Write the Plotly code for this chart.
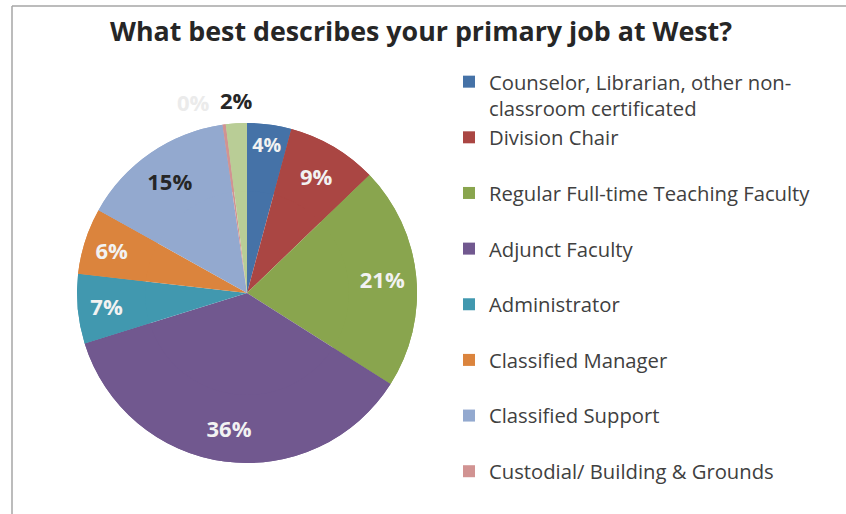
import math
import plotly.graph_objects as go

# Survey responses: primary job category (percent of respondents)
categories = [
    "Counselor, Librarian, other non-<br>classroom certificated",
    "Division Chair",
    "Regular Full-time Teaching Faculty",
    "Adjunct Faculty",
    "Administrator",
    "Classified Manager",
    "Classified Support",
    "Custodial/ Building & Grounds",
    "Other",
]
shares = [4.2, 8.6, 21.2, 36.2, 6.6, 6.3, 14.6, 0.3, 2.0]

slice_colors = ["#4572A7", "#AA4643", "#89A54E", "#71588F", "#4198AF",
                "#DB843D", "#93A9CF", "#D19392", "#B9CD96"]
label_colors = ["#F2F2F2", "#F2F2F2", "#F2F2F2", "#F2F2F2", "#F2F2F2",
                "#F2F2F2", "#262626", "#EBEBEB", "#262626"]
# the two thin slices at the top get their labels outside the pie
outside = [False] * 7 + [True, True]

W, H = 846, 514
FONT = "Open Sans"
LABEL_SIZE = 22

# pie placement (pixels)
cx, cy, r = 247, 293, 170
dom = dict(x=[(cx - r) / W, (cx + r) / W], y=[1 - (cy + r) / H, 1 - (cy - r) / H])

# every legend entry occupies two text lines
legend_labels = [c if "<br>" in c else c + "<br>\u00a0" for c in categories]
no_line = dict(width=0)

total = sum(shares)
pct_text = [f"{round(100 * v / total)}%" for v in shares]

fig = go.Figure()
# full pie: the slices and the legend
fig.add_trace(go.Pie(
    labels=legend_labels, values=shares, sort=False,
    direction="clockwise", rotation=0,
    marker=dict(colors=slice_colors, line=no_line),
    textinfo="none", hoverinfo="label+percent",
    domain=dom,
))
# identical ring on top, so the percentage labels sit in the outer part of each slice
fig.add_trace(go.Pie(
    labels=legend_labels, values=shares, sort=False,
    direction="clockwise", rotation=0, hole=0.6,
    marker=dict(colors=slice_colors, line=no_line),
    text=["" if o else t for o, t in zip(outside, pct_text)],
    texttemplate="%{text}", textposition="inside",
    insidetextorientation="horizontal",
    textfont=dict(family=FONT, size=LABEL_SIZE, color=label_colors, weight="bold"),
    hoverinfo="label+percent", showlegend=False,
    domain=dom,
))

# outside labels for the thin slices, anchored at their outer edge
annotations = []
cum = 0.0
for i, v in enumerate(shares):
    mid = 2 * math.pi * (cum + v / 2) / total
    cum += v
    if not outside[i]:
        continue
    ex, ey = cx + r * math.sin(mid), cy - r * math.cos(mid)
    next_out = i + 1 < len(shares) and outside[i + 1]
    annotations.append(dict(
        x=ex / W, y=1 - ey / H, xref="paper", yref="paper",
        text=f"<b>{pct_text[i]}</b>", showarrow=False,
        xanchor="right" if next_out else "center", yanchor="bottom",
        xshift=-12 if next_out else 0, yshift=6,
        font=dict(family=FONT, size=LABEL_SIZE, color=label_colors[i]),
    ))

fig.update_layout(
    width=W, height=H,
    margin=dict(l=0, r=0, t=0, b=0, autoexpand=False),
    paper_bgcolor="white",
    plot_bgcolor="white",
    title=dict(
        text="<b>What best describes your primary job at West?</b>",
        x=421 / W, xanchor="center", xref="paper",
        y=1 - 32 / H, yanchor="middle", yref="paper",
        font=dict(family=FONT, size=26.8, color="#262626"),
    ),
    legend=dict(
        x=449 / W, xanchor="left",
        y=1 - 62 / H, yanchor="top",
        valign="top",
        maxheight=1000,
        font=dict(family=FONT, size=20.25, color="#404040"),
        bgcolor="rgba(0,0,0,0)",
        traceorder="normal",
    ),
    annotations=annotations,
    shapes=[
        dict(type="line", xref="paper", yref="paper",
             x0=12 / W, x1=1, y0=1 - 6 / H, y1=1 - 6 / H,
             line=dict(color="#A6A6A6", width=1.5)),
        dict(type="line", xref="paper", yref="paper",
             x0=12 / W, x1=12 / W, y0=0, y1=1 - 6 / H,
             line=dict(color="#A6A6A6", width=1.5)),
    ],
)

fig.write_html("out.html")
